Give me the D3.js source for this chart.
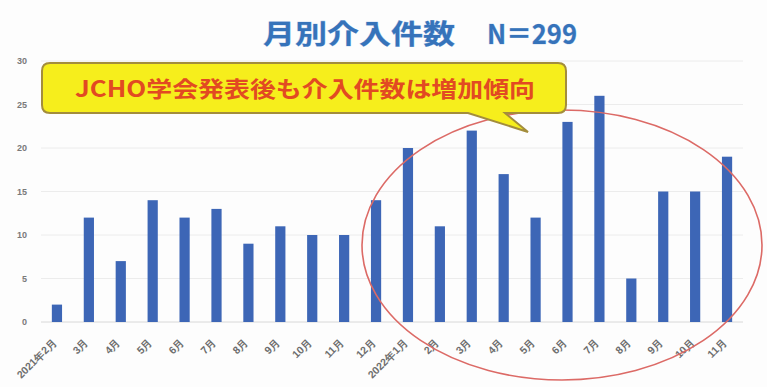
<!DOCTYPE html>
<html><head><meta charset="utf-8">
<script src="https://cdn.jsdelivr.net/npm/d3@7"></script>
<style>
html,body{margin:0;padding:0;background:#fff;}
svg{display:block;font-family:"Noto Sans CJK JP","Noto Sans",sans-serif;}
</style></head>
<body>
<svg id="c" width="767" height="387"></svg>
<script>
const categories = ["2021年2月","3月","4月","5月","6月","7月","8月","9月","10月","11月","12月",
  "2022年1月","2月","3月","4月","5月","6月","7月","8月","9月","10月","11月"];
const values = [2,12,7,14,12,13,9,11,10,10,14,20,11,22,17,12,23,26,5,15,15,19];
const yTicks = [0,5,10,15,20,25,30];
const titleMain = "月別介入件数";
const titleN = "N＝299";
const calloutText = "JCHO学会発表後も介入件数は増加傾向";

const svg = d3.select("#c");
const W = 767, H = 387;
svg.append("rect").attr("width",W).attr("height",H).attr("fill","#fdfdfd");

const x = d3.scaleBand().domain(d3.range(categories.length)).range([41,743]).paddingInner(0.68).paddingOuter(0.34);
const y = d3.scaleLinear().domain([0,30]).range([322,61]);

// gridlines
svg.append("g").selectAll("line").data(yTicks).join("line")
  .attr("x1",41).attr("x2",743).attr("y1",d=>y(d)).attr("y2",d=>y(d))
  .attr("stroke",d=>d===0?"#d8d8d8":"#ececec").attr("stroke-width",1);

// y axis labels
const yAxis = d3.axisLeft(y).tickValues(yTicks).tickSize(0).tickPadding(0);
const yg = svg.append("g").attr("transform","translate(27,0)").call(yAxis);
yg.select(".domain").remove();
yg.selectAll("text").attr("fill","#7a7a7a").attr("font-size",9).attr("font-weight","bold").attr("font-family","Liberation Sans, Arial, sans-serif");

// bars
svg.append("g").selectAll("rect").data(values).join("rect")
  .attr("x",(d,i)=>x(i)).attr("width",x.bandwidth())
  .attr("y",d=>y(d)).attr("height",d=>y(0)-y(d))
  .attr("fill","#3d66b6");

// x labels
const xAxis = d3.axisBottom(x).tickFormat(i=>categories[i]).tickSize(0).tickPadding(0);
const xg = svg.append("g").attr("transform","translate(0,"+(y(0)+16)+")").call(xAxis);
xg.select(".domain").remove();
xg.selectAll("text").attr("fill","#6e6e6e").attr("font-size",10.5).attr("font-weight","bold")
  .attr("text-anchor","end").attr("dx","-0.3em").attr("dy","0.35em")
  .attr("transform","rotate(-45)");

// title
svg.append("text").attr("x",263).attr("y",44)
  .attr("font-size",27).attr("font-weight","bold").attr("fill","#3673ba")
  .attr("stroke","#a9c6ea").attr("stroke-width",0.6).attr("paint-order","stroke")
  .attr("textLength",192).attr("lengthAdjust","spacingAndGlyphs")
  .text(titleMain);
svg.append("text").attr("x",487).attr("y",44)
  .attr("font-size",27).attr("font-weight","bold").attr("fill","#3673ba")
  .attr("stroke","#a9c6ea").attr("stroke-width",0.6).attr("paint-order","stroke")
  .attr("textLength",90).attr("lengthAdjust","spacingAndGlyphs")
  .text(titleN);

// ellipse
svg.append("ellipse").attr("cx",562).attr("cy",245).attr("rx",200).attr("ry",135)
  .attr("fill","none").attr("stroke","#dc6a66").attr("stroke-width",1.6);

// callout
const bx0=42, bx1=566, by0=63, by1=113, r=8;
const path = d3.path();
path.moveTo(bx0+r,by0);
path.lineTo(bx1-r,by0); path.quadraticCurveTo(bx1,by0,bx1,by0+r);
path.lineTo(bx1,by1-r); path.quadraticCurveTo(bx1,by1,bx1-r,by1);
path.lineTo(505,by1); path.lineTo(528,132); path.lineTo(468,by1);
path.lineTo(bx0+r,by1); path.quadraticCurveTo(bx0,by1,bx0,by1-r);
path.lineTo(bx0,by0+r); path.quadraticCurveTo(bx0,by0,bx0+r,by0);
path.closePath();
svg.append("path").attr("d",path.toString()).attr("fill","#f6ee1c")
  .attr("stroke","#a38d3c").attr("stroke-width",2);
svg.append("text").attr("x",305).attr("y",97).attr("text-anchor","middle")
  .attr("font-size",22).attr("font-weight","bold").attr("fill","#e24a22")
  .attr("textLength",460).attr("lengthAdjust","spacingAndGlyphs")
  .text(calloutText);
</script>
</body></html>
